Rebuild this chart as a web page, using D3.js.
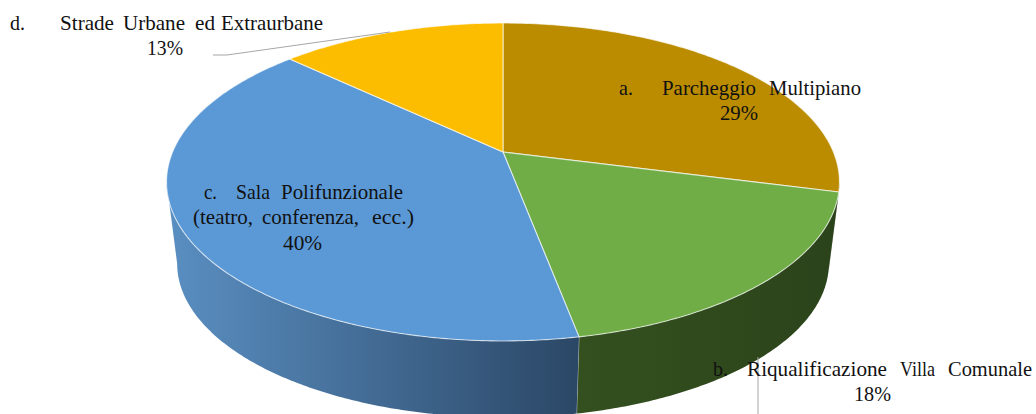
<!DOCTYPE html>
<html><head><meta charset="utf-8">
<script src="https://cdn.jsdelivr.net/npm/d3@7"></script>
<style>html,body{margin:0;padding:0;background:#fff;overflow:hidden}svg{display:block}text{font-family:"Liberation Serif",serif;font-size:21px;fill:#111}</style>
</head><body><svg id="c" width="1036" height="414"></svg>
<script>
const categories = ["a. Parcheggio Multipiano","b. Riqualificazione Villa Comunale","c. Sala Polifunzionale","d. Strade Urbane ed Extraurbane"];
const values = [29,18,40,13];
const topColors = ["#BB8C00","#70AD47","#5B99D6","#FCBD00"];
const sideColors = [["#6e5200","#6e5200"],["#34501f","#2b431a"],["#2b4766","#5a8fc2"],["#8a6800","#8a6800"]];
const secondLine = ["","","(teatro, conferenza, ecc.)",""];

// word layout: [x, baseline, width]
const wordBoxes = [
  [[619,95,14],[662,95,94],[769,95,92]],
  [[713,376,15],[747,376,140],[900,376,35],[948,376,84]],
  [[204,199,13],[236,199,34],[281,199,122]],
  [[10,30,15],[60,30,54],[123,30,62],[195,30,20],[221,30,102]]
];
const secondBoxes = [[],[],[[193,224,60],[262,224,97],[372,224,42]],[]];
const pctBoxes = [[720,120,38],[854,401,37],[283,250,39],[147,55,36]];
const leaders = [
  [[758,357],[758,414]],
  [[390,32],[227,55],[213,55]]
];

const svg = d3.select("#c");
const P = 0.1887;
const topFace = {cx:503,cy:152,a:330.4,b:153.3};
const botFace = {cx:503,cy:234.5,a:320,b:148.5};
const project = (f,t)=>{const u=Math.sin(t),v=Math.cos(t),w=1+P*v;return [f.cx+f.a*u/w,f.cy-f.b*v/w];};
const arcPts = (f,t0,t1)=>{const n=Math.max(2,Math.ceil(Math.abs(t1-t0)/0.01));return d3.range(n+1).map(i=>project(f,t0+(t1-t0)*i/n));};
const line = d3.line();
const arcs = d3.pie().sort(null).value(d=>d)(values);
const visStart = Math.PI/2+Math.asin(P), visEnd = 2*Math.PI-visStart;

const defs = svg.append("defs");
sideColors.forEach((c,i)=>{
  const g = defs.append("linearGradient").attr("id","sg"+i);
  const order = i===2;
  g.append("stop").attr("offset",0).attr("stop-color",order?c[1]:c[0]);
  g.append("stop").attr("offset",1).attr("stop-color",order?c[0]:c[1]);
});

// sides
arcs.forEach((d,i)=>{
  const t0=Math.max(d.startAngle,visStart), t1=Math.min(d.endAngle,visEnd);
  if(t1<=t0) return;
  const pts = arcPts(topFace,t0,t1).concat(arcPts(botFace,t1,t0));
  svg.append("path").attr("d",line(pts)+"Z").attr("fill",`url(#sg${i})`);
  svg.append("path").attr("d",line([project(topFace,t1),project(botFace,t1)]))
    .attr("stroke","#d8dde2").attr("stroke-opacity",t1===visEnd?0:.7).attr("fill","none");
});
// top faces
arcs.forEach((d,i)=>{
  const pts = [[topFace.cx,topFace.cy]].concat(arcPts(topFace,d.startAngle,d.endAngle));
  svg.append("path").attr("d",line(pts)+"Z").attr("fill",topColors[i])
    .attr("stroke","#fff").attr("stroke-opacity",.65).attr("stroke-width",1.1).attr("stroke-linejoin","round");
});
// leaders
leaders.forEach(l=>svg.append("path").attr("d",line(l)).attr("fill","none").attr("stroke","#a6a6a6").attr("stroke-width",1));
// labels
const put=(s,b)=>svg.append("text").attr("x",b[0]).attr("y",b[1]).attr("textLength",b[2]).attr("lengthAdjust","spacingAndGlyphs").text(s);
categories.forEach((c,i)=>{
  c.split(" ").forEach((w,j)=>put(w,wordBoxes[i][j]));
  if(secondLine[i]) secondLine[i].split(" ").forEach((w,j)=>put(w,secondBoxes[i][j]));
  put(values[i]+"%",pctBoxes[i]);
});
</script></body></html>
